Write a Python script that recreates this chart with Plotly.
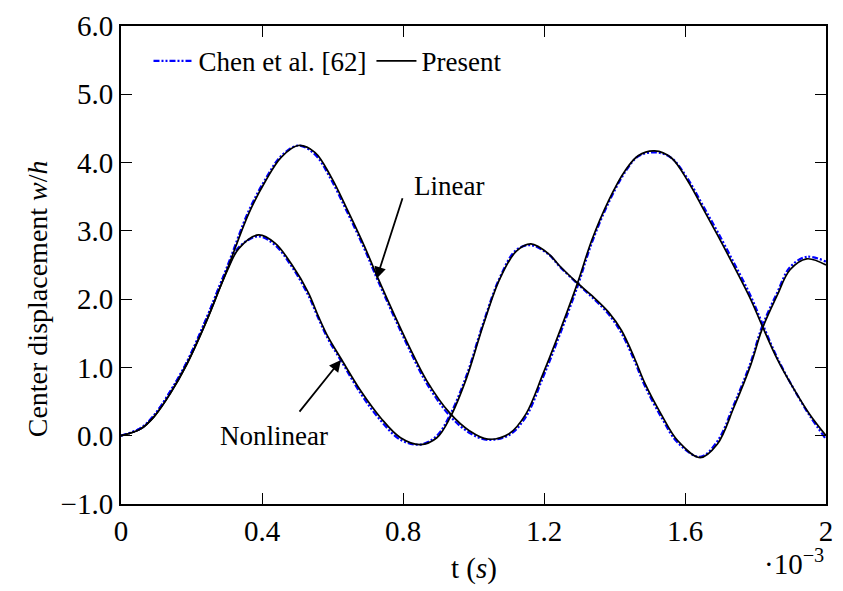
import plotly.graph_objects as go

# time in units of 1e-3 s
t_lin = [0.000, 0.056, 0.094, 0.140, 0.187, 0.241, 0.281, 0.306, 0.362, 0.410,
         0.455, 0.503, 0.550, 0.596, 0.643, 0.691, 0.728, 0.820, 0.868, 0.933,
         0.989, 1.040, 1.101, 1.149, 1.196, 1.233, 1.294, 1.336, 1.383, 1.430,
         1.467, 1.514, 1.561, 1.608, 1.654, 1.692, 1.739, 1.786, 1.818, 1.861,
         1.907, 1.954, 2.000]
w_lin_present = [0.00, 0.10, 0.28, 0.62, 1.05, 1.66, 2.17, 2.50, 3.25, 3.73,
                 4.08, 4.25, 4.15, 3.79, 3.30, 2.77, 2.32, 1.28, 0.80, 0.33,
                 0.07, -0.05, 0.03, 0.32, 0.89, 1.37, 2.22, 2.87, 3.44, 3.88,
                 4.10, 4.17, 4.07, 3.73, 3.30, 2.94, 2.48, 2.00, 1.62, 1.13,
                 0.70, 0.31, 0.00]
w_lin_chen = [0.00, 0.11, 0.30, 0.65, 1.08, 1.70, 2.21, 2.54, 3.29, 3.76,
              4.10, 4.25, 4.12, 3.75, 3.26, 2.73, 2.28, 1.24, 0.76, 0.29,
              0.04, -0.06, 0.01, 0.28, 0.84, 1.32, 2.17, 2.83, 3.41, 3.86,
              4.09, 4.15, 4.07, 3.76, 3.34, 2.99, 2.53, 2.05, 1.66, 1.15,
              0.70, 0.29, -0.05]

t_nl = [0.000, 0.056, 0.094, 0.140, 0.187, 0.241, 0.281, 0.306, 0.334, 0.390,
        0.437, 0.484, 0.531, 0.559, 0.587, 0.624, 0.681, 0.737, 0.793, 0.849,
        0.896, 0.933, 0.980, 1.027, 1.074, 1.121, 1.163, 1.214, 1.242, 1.294,
        1.336, 1.383, 1.420, 1.458, 1.486, 1.533, 1.579, 1.643, 1.692, 1.739,
        1.786, 1.818, 1.861, 1.898, 1.945, 2.000]
w_nl_present = [0.00, 0.10, 0.28, 0.62, 1.05, 1.66, 2.17, 2.47, 2.74, 2.94,
                2.82, 2.51, 2.10, 1.76, 1.45, 1.13, 0.65, 0.26, -0.03, -0.13,
                -0.03, 0.26, 0.84, 1.61, 2.29, 2.70, 2.81, 2.66, 2.50, 2.24,
                2.05, 1.81, 1.54, 1.12, 0.77, 0.31, -0.07, -0.32, -0.12, 0.42,
                1.03, 1.55, 2.05, 2.43, 2.59, 2.50]
w_nl_chen = [0.00, 0.11, 0.30, 0.65, 1.08, 1.70, 2.21, 2.50, 2.76, 2.92,
             2.79, 2.48, 2.06, 1.73, 1.42, 1.10, 0.61, 0.22, -0.06, -0.13,
             0.00, 0.30, 0.88, 1.64, 2.31, 2.72, 2.79, 2.65, 2.49, 2.23,
             2.03, 1.78, 1.50, 1.08, 0.73, 0.27, -0.10, -0.31, -0.08, 0.46,
             1.07, 1.59, 2.09, 2.47, 2.62, 2.55]

x_ticks = [0, 0.4, 0.8, 1.2, 1.6, 2.0]
x_tick_text = ["0", "0.4", "0.8", "1.2", "1.6", "2"]
y_ticks = [-1, 0, 1, 2, 3, 4, 5, 6]

SERIF = "Liberation Serif, Times New Roman, Times, DejaVu Serif, serif"
BLUE = "#0000ff"
CHEN_DASH = "6px,2px,2px,2px,2px,2px"

fig = go.Figure()

for t, w, show in [(t_lin, w_lin_chen, True), (t_nl, w_nl_chen, False)]:
    fig.add_trace(go.Scatter(
        x=t, y=w, mode="lines", name="Chen et al. [62]",
        legendgroup="chen", showlegend=show,
        line=dict(color=BLUE, width=2.2, dash=CHEN_DASH, shape="spline", smoothing=1.0),
    ))

for t, w, show in [(t_lin, w_lin_present, True), (t_nl, w_nl_present, False)]:
    fig.add_trace(go.Scatter(
        x=t, y=w, mode="lines", name="Present",
        legendgroup="present", showlegend=show,
        line=dict(color="black", width=1.7, shape="spline", smoothing=1.0),
    ))

axis_common = dict(
    showline=True, linecolor="black", linewidth=2, mirror="ticks",
    ticks="inside", ticklen=11, tickwidth=1, tickcolor="black",
    showgrid=False, zeroline=False,
    tickfont=dict(family=SERIF, size=29, color="black"),
)

fig.update_xaxes(range=[0, 2], tickvals=x_ticks, ticktext=x_tick_text, **axis_common)
fig.update_yaxes(range=[-1, 6], tickvals=y_ticks, tickformat=".1f", **axis_common)

# axis titles and exponent
fig.add_annotation(
    text="Center displacement <i>w</i>/<i>h</i>", textangle=-90,
    xref="paper", yref="paper", x=-0.118, y=0.43,
    xanchor="center", yanchor="middle", showarrow=False,
    font=dict(family=SERIF, size=28, color="black"),
)
fig.add_annotation(
    text="t (<i>s</i>)", xref="paper", yref="paper", x=0.5, y=-0.134,
    xanchor="center", yanchor="middle", showarrow=False,
    font=dict(family=SERIF, size=29, color="black"),
)
fig.add_annotation(
    text="·10<sup>−3</sup>", xref="paper", yref="paper", x=1.0, y=-0.122,
    xanchor="right", yanchor="middle", showarrow=False,
    font=dict(family=SERIF, size=29, color="black"),
)

# curve labels with arrows
fig.add_annotation(
    text="Linear", x=0.93, y=3.66, xanchor="center", yanchor="middle",
    showarrow=False, font=dict(family=SERIF, size=27, color="black"),
)
fig.add_annotation(
    text="", x=0.725, y=2.30, ax=0.80, ay=3.50, axref="x", ayref="y",
    showarrow=True, arrowhead=2, arrowsize=1.3, arrowwidth=1.8, arrowcolor="black",
)
fig.add_annotation(
    text="Nonlinear", x=0.435, y=0.0, xanchor="center", yanchor="middle",
    showarrow=False, font=dict(family=SERIF, size=27, color="black"),
)
fig.add_annotation(
    text="", x=0.624, y=1.11, ax=0.503, ay=0.33, axref="x", ayref="y",
    showarrow=True, arrowhead=2, arrowsize=1.3, arrowwidth=1.8, arrowcolor="black",
)

fig.update_layout(
    width=843, height=591,
    margin=dict(l=121, r=10, t=20, b=87),
    paper_bgcolor="white", plot_bgcolor="white",
    showlegend=True,
    legend=dict(
        orientation="h", x=0.039, y=0.926, xanchor="left", yanchor="middle",
        bgcolor="rgba(0,0,0,0)", borderwidth=0,
        font=dict(family=SERIF, size=27, color="black"),
        itemwidth=40,
    ),
)

fig.write_html("out.html")
